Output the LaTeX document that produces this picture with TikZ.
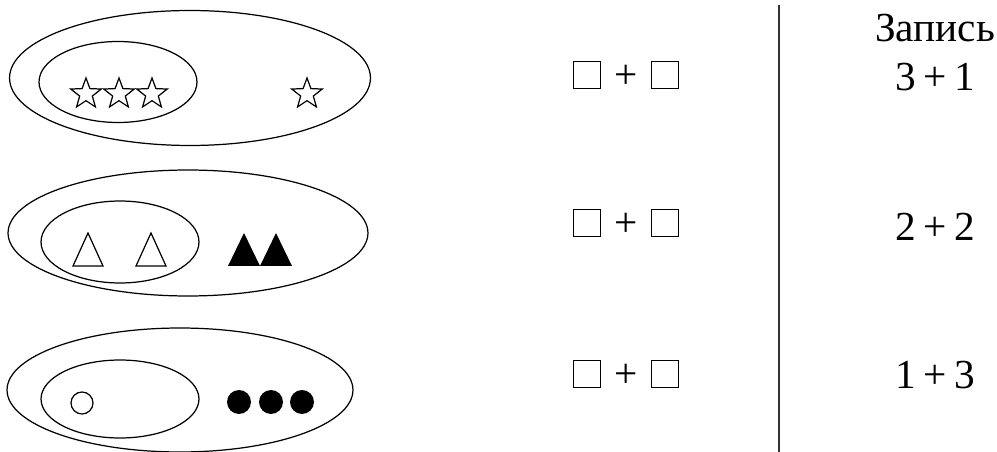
\documentclass[tikz,border=0pt]{standalone}
\usepackage{fontspec}
\setmainfont{Liberation Serif}
\usetikzlibrary{positioning,shapes.geometric}

\tikzset{
  setring/.style={draw, ellipse, inner sep=0pt, line width=0.7pt},
  starfig/.style={draw, star, star points=5, star point ratio=2.4, minimum size=0.64cm, inner sep=0pt, line width=0.7pt},
  cellbox/.style={draw, rectangle, minimum size=0.54cm, inner sep=0pt, line width=0.7pt},
  bigtext/.style={font=\fontsize{23.5}{28}\selectfont, inner sep=0pt}
}

\begin{document}
\begin{tikzpicture}[x=0.02cm, y=-0.02cm]
\useasboundingbox (0,0) rectangle (997,452);
% sets with stars
\node[setring, minimum width=7.22cm, minimum height=2.7cm] (outerA) at (190,78) {};
\node[setring, minimum width=3.16cm, minimum height=1.62cm] (innerA) at (118,82) {};
\foreach \x/\n in {86/1,119/2,152/3}
  \node[starfig] (starA\n) at (\x,94) {};
\node[starfig] (starA4) at (307,94) {};
% sets with triangles
\node[setring, minimum width=7.2cm, minimum height=2.52cm] (outerB) at (188,233) {};
\node[setring, minimum width=3.16cm, minimum height=1.64cm] (innerB) at (120,242) {};
\foreach \x in {88,151}
  \draw[line width=0.7pt] (\x-15,266) -- (\x,233) -- (\x+15,266) -- cycle;
\foreach \x in {244,276}
  \fill (\x-16,266) -- (\x,233) -- (\x+16,266) -- cycle;
% sets with circles
\node[setring, minimum width=6.92cm, minimum height=2.48cm] (outerC) at (180,390) {};
\node[setring, minimum width=3.16cm, minimum height=1.56cm] (innerC) at (120,399) {};
\node[draw, circle, minimum size=0.44cm, inner sep=0pt, line width=0.7pt] (dotC0) at (82,403) {};
\foreach \x/\n in {239/1,271/2,302/3}
  \node[fill, circle, minimum size=0.48cm, inner sep=0pt] (dotC\n) at (\x,402) {};
% empty sums
\foreach \y/\r in {75/A,223/B,374/C} {
  \node[cellbox] (box\r1) at (587,\y) {};
  \node[bigtext] (plus\r) at (626,\y+2) {+};
  \node[cellbox] (box\r2) at (665,\y) {};
}
% divider
\coordinate (lineTop) at (779,5);
\coordinate (lineBot) at (779,452);
\draw[line width=1pt, black!80] (lineTop) -- (lineBot);
% records
\node[bigtext] (head) at (935,28) {Запись};
\node[bigtext] (recA) at (935,77) {3\hspace{0.18em}+\hspace{0.18em}1};
\node[bigtext] (recB) at (935,227) {2\hspace{0.18em}+\hspace{0.18em}2};
\node[bigtext] (recC) at (935,375) {1\hspace{0.18em}+\hspace{0.18em}3};
\end{tikzpicture}
\end{document}
